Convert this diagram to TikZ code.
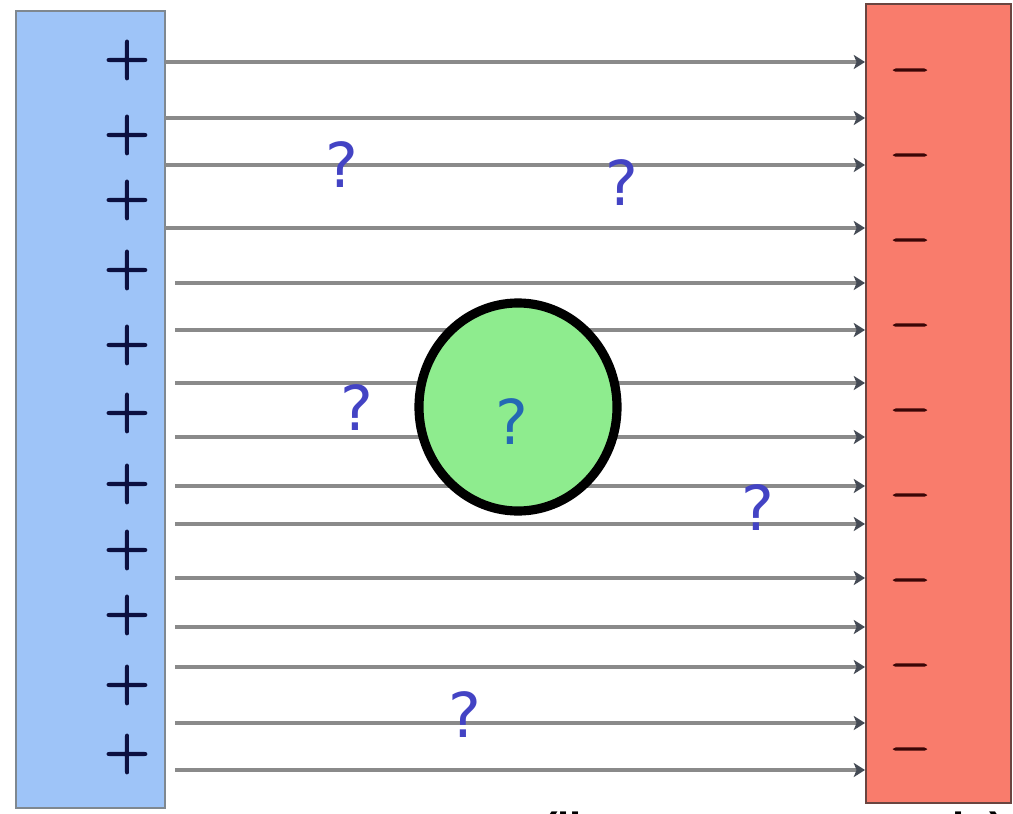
\documentclass[tikz,border=0pt]{standalone}
\usepackage{fontspec}
\newfontfamily\qfont{DejaVu Sans}
\newfontfamily\capfont{Liberation Sans}
\newfontfamily\signfont[FakeBold=3]{Latin Modern Roman}
\usetikzlibrary{arrows.meta,shapes.geometric}
\definecolor{plateblue}{HTML}{9EC4F8}
\definecolor{plateblueedge}{HTML}{7F8890}
\definecolor{platered}{HTML}{F97C6C}
\definecolor{plarerededge}{HTML}{6A4540}
\definecolor{ballgreen}{HTML}{8EEC8E}
\definecolor{plusnavy}{HTML}{0C1040}
\definecolor{minusmaroon}{HTML}{3A0606}
\definecolor{fieldgray}{HTML}{8A8A8A}
\definecolor{tipgray}{HTML}{454B55}
\definecolor{qblue}{HTML}{4343C4}
\definecolor{qinner}{HTML}{2468B4}
\begin{document}
\begin{tikzpicture}[x=0.025cm,y=-0.025cm,
  leftplate/.style={draw=plateblueedge,line width=1.5pt,fill=plateblue},
  rightplate/.style={draw=plarerededge,line width=1.5pt,fill=platered},
  plussign/.style={inner sep=0pt,text=plusnavy,font=\signfont\fontsize{44}{48}\selectfont},
  minussign/.style={inner sep=0pt,text=minusmaroon,font=\signfont\fontsize{36}{40}\selectfont},
  fieldline/.style={draw=fieldgray,line width=3.1pt,-{Stealth[length=8pt,width=10pt,inset=2pt,color=tipgray]}},
  ball/.style={ellipse,draw=black,line width=6.5pt,fill=ballgreen,inner sep=0pt,minimum width=4.95cm,minimum height=5.2cm},
  qmark/.style={inner sep=0pt,text=qblue,font=\qfont\fontsize{44}{48}\selectfont},
  note/.style={inner sep=0pt,anchor=base west,font=\capfont\bfseries\fontsize{31}{34}\selectfont}
]
\useasboundingbox (0,0) rectangle (1013,814);
\fill[white] (0,0) rectangle (1013,814);
% plates
\draw[leftplate] (16,11) rectangle (165,808);
\draw[rightplate] (866,4) rectangle (1011,803);
% charges
\foreach \y [count=\i] in {60,135,200,270,345,413,484,550,615,685,754}
  \node[plussign] (plus\i) at (127,\y) {+};
\foreach \y [count=\i] in {76,161,246,331,416,501,586,671,755}
  \node[minussign] (minus\i) at (910,\y) {−};
% field lines
\foreach \y/\x [count=\i] in {62/165,118/165,165/165,228/165,283/175,330/175,383/175,437/175,486/175,524/175,578/175,627/175,667/175,723/175,770/175}{
  \coordinate (s\i) at (\x,\y);
  \coordinate (e\i) at (865,\y);
  \draw[fieldline] (s\i) -- (e\i);
}
% conductor
\node[ball] (ball) at (518,407) {};
% question marks
\node[qmark] (q1) at (342,165) {?};
\node[qmark] (q2) at (622,183) {?};
\node[qmark] (q3) at (357,408) {?};
\node[qmark,text=qinner] (q4) at (512,422) {?};
\node[qmark] (q5) at (758,508) {?};
\node[qmark] (q6) at (465,715) {?};
% clipped caption
\node[note] (cap) at (543,843) {(lines are not to scale)};
\end{tikzpicture}
\end{document}
